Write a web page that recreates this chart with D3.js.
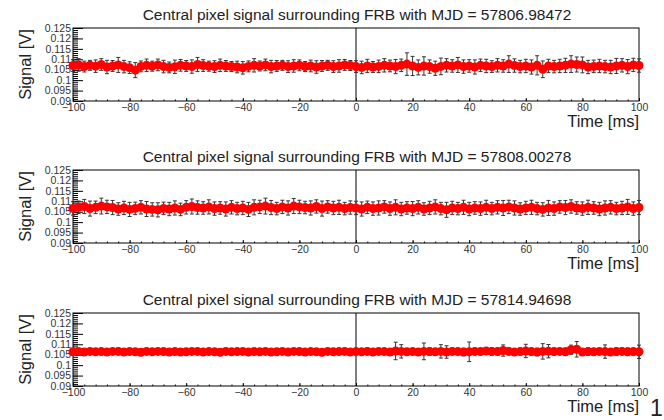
<!DOCTYPE html>
<html>
<head>
<meta charset="utf-8">
<script src="https://cdn.jsdelivr.net/npm/d3@7"></script>
<style>
body { margin: 0; background: #fff; }
svg { display: block; font-family: "Liberation Sans", Arial, sans-serif; }
.frame { fill: none; stroke: #000; stroke-width: 1; }
.zero { stroke: #000; stroke-width: 1; }
.tick line { stroke: #000; }
.tick text { fill: #333; font-size: 10.5px; }
.err { stroke: #333; stroke-width: 1; }
.dot { fill: #ff0000; }
.title { font-size: 15.5px; fill: #222; }
.axlabel { font-size: 16.5px; fill: #222; }
</style>
</head>
<body>
<div></div>
<script>
var w = 664;
var h = 420;
var left = 73, right = 639;
var panelTops = [28, 170, 313];
var panelH = 73;

// tick labels
var xTicks = [-100, -80, -60, -40, -20, 0, 20, 40, 60, 80, 100];
var yTicks = [0.09, 0.095, 0.1, 0.105, 0.11, 0.115, 0.12, 0.125];

var mjds = ["57806.98472", "57808.00278", "57814.94698"];

// sample times, 2 ms apart
var times = d3.range(-100, 101, 2);

// signal [V] per panel
var signal1 = [
 .1070,.1073,.1065,.1071,.1067,.1075,.1063,.1068,.1073,.1065,
 .1060,.1048,.1066,.1071,.1067,.1073,.1065,.1061,.1064,.1071,
 .1068,.1065,.1075,.1070,.1067,.1065,.1071,.1068,.1065,.1063,
 .1059,.1066,.1071,.1068,.1073,.1065,.1068,.1071,.1065,.1068,
 .1071,.1065,.1068,.1063,.1068,.1071,.1065,.1068,.1073,.1070,
 .1065,.1061,.1068,.1063,.1066,.1071,.1068,.1065,.1071,.1077,
 .1068,.1061,.1068,.1065,.1057,.1066,.1071,.1068,.1073,.1065,
 .1068,.1063,.1071,.1068,.1065,.1071,.1068,.1077,.1070,.1065,
 .1068,.1063,.1071,.1052,.1068,.1065,.1068,.1071,.1077,.1075,
 .1073,.1063,.1066,.1068,.1065,.1063,.1068,.1071,.1065,.1073,
 .1070];
var error1 = [
 .0028,.0030,.0026,.0024,.0030,.0028,.0032,.0026,.0036,.0030,
 .0028,.0036,.0026,.0030,.0024,.0028,.0030,.0026,.0032,.0028,
 .0026,.0032,.0034,.0028,.0024,.0028,.0030,.0026,.0024,.0028,
 .0030,.0026,.0032,.0024,.0028,.0030,.0026,.0024,.0028,.0030,
 .0026,.0024,.0028,.0030,.0026,.0024,.0028,.0030,.0026,.0024,
 .0028,.0030,.0032,.0026,.0030,.0032,.0028,.0034,.0030,.0054,
 .0046,.0036,.0044,.0032,.0034,.0040,.0032,.0030,.0036,.0032,
 .0030,.0034,.0030,.0032,.0028,.0032,.0030,.0040,.0032,.0030,
 .0032,.0034,.0046,.0040,.0032,.0030,.0032,.0034,.0040,.0036,
 .0038,.0032,.0030,.0032,.0030,.0032,.0036,.0032,.0034,.0032,
 .0032];

var signal2 = [
 .1066,.1071,.1075,.1065,.1071,.1077,.1073,.1070,.1063,.1068,
 .1061,.1066,.1071,.1063,.1061,.1059,.1066,.1063,.1068,.1061,
 .1071,.1075,.1070,.1068,.1073,.1065,.1068,.1063,.1071,.1065,
 .1068,.1061,.1071,.1073,.1077,.1070,.1065,.1073,.1068,.1077,
 .1073,.1070,.1068,.1075,.1065,.1073,.1068,.1071,.1065,.1070,
 .1068,.1063,.1071,.1065,.1068,.1073,.1065,.1071,.1063,.1068,
 .1065,.1071,.1063,.1068,.1073,.1065,.1059,.1068,.1065,.1071,
 .1063,.1068,.1065,.1071,.1065,.1071,.1068,.1073,.1068,.1063,
 .1068,.1071,.1065,.1061,.1068,.1065,.1073,.1070,.1075,.1068,
 .1065,.1071,.1068,.1063,.1068,.1071,.1065,.1068,.1073,.1065,
 .1070];
var error2 = [
 .0032,.0030,.0034,.0036,.0030,.0038,.0032,.0034,.0030,.0032,
 .0034,.0030,.0032,.0036,.0032,.0034,.0030,.0032,.0034,.0030,
 .0032,.0036,.0032,.0030,.0034,.0032,.0030,.0034,.0032,.0030,
 .0032,.0034,.0036,.0032,.0038,.0034,.0030,.0032,.0034,.0036,
 .0032,.0030,.0034,.0032,.0036,.0030,.0032,.0034,.0030,.0032,
 .0032,.0034,.0030,.0032,.0034,.0030,.0032,.0036,.0032,.0030,
 .0034,.0032,.0030,.0032,.0034,.0030,.0036,.0032,.0030,.0034,
 .0032,.0030,.0032,.0034,.0030,.0032,.0036,.0032,.0034,.0030,
 .0032,.0034,.0030,.0032,.0036,.0032,.0030,.0034,.0032,.0030,
 .0032,.0034,.0030,.0032,.0034,.0032,.0030,.0032,.0036,.0032,
 .0034];

var signal3 = [
 .1064,.1066,.1063,.1066,.1064,.1065,.1063,.1066,.1066,.1063,
 .1065,.1064,.1062,.1066,.1064,.1066,.1065,.1063,.1065,.1063,
 .1064,.1066,.1066,.1063,.1065,.1064,.1062,.1066,.1064,.1065,
 .1066,.1063,.1065,.1064,.1066,.1063,.1064,.1066,.1063,.1066,
 .1065,.1063,.1065,.1064,.1062,.1066,.1064,.1065,.1066,.1063,
 .1065,.1064,.1066,.1063,.1066,.1065,.1063,.1068,.1066,.1064,
 .1065,.1063,.1066,.1065,.1064,.1066,.1063,.1066,.1065,.1063,
 .1064,.1066,.1065,.1068,.1066,.1065,.1070,.1066,.1063,.1065,
 .1068,.1065,.1063,.1066,.1067,.1065,.1066,.1064,.1074,.1076,
 .1063,.1065,.1064,.1066,.1065,.1063,.1065,.1066,.1064,.1065,
 .1064];
var error3 = [
 .0012,.0012,.0014,.0012,.0012,.0014,.0012,.0012,.0016,.0012,
 .0012,.0014,.0012,.0012,.0014,.0012,.0012,.0014,.0012,.0012,
 .0014,.0012,.0012,.0014,.0012,.0012,.0014,.0012,.0012,.0014,
 .0012,.0012,.0014,.0012,.0012,.0014,.0012,.0012,.0014,.0012,
 .0012,.0014,.0012,.0012,.0014,.0012,.0012,.0014,.0012,.0012,
 .0014,.0012,.0016,.0012,.0014,.0012,.0014,.0042,.0032,.0016,
 .0014,.0016,.0040,.0018,.0016,.0032,.0030,.0016,.0014,.0018,
 .0047,.0016,.0014,.0016,.0018,.0016,.0027,.0016,.0014,.0016,
 .0032,.0016,.0018,.0037,.0032,.0016,.0014,.0018,.0022,.0037,
 .0016,.0018,.0016,.0014,.0032,.0016,.0018,.0016,.0018,.0016,
 .0032];

var signals = [signal1, signal2, signal3];
var errors = [error1, error2, error3];

var svg = d3.select("div").append("svg")
	.attr("width", w)
	.attr("height", h);

var x = d3.scaleLinear().domain([-100, 100]).range([left, right]);

panelTops.forEach(function(top, i) {
	drawPanel(top, i);
});

// page number at the bottom right
svg.append("text")
	.attr("x", 650)
	.attr("y", 416)
	.attr("font-size", 23)
	.attr("fill", "#222")
	.text("1");

function drawPanel(top, i) {
	var bottom = top + panelH;
	var y = d3.scaleLinear().domain([0.09, 0.125]).range([bottom, top]);
	var g = svg.append("g").attr("class", "panel");

	//title
	g.append("text")
		.attr("class", "title")
		.attr("x", (left + right) / 2 + 1)
		.attr("y", top - 8)
		.attr("text-anchor", "middle")
		.text("Central pixel signal surrounding FRB with MJD = " + mjds[i]);

	//x axis, ticks pointing inside
	g.append("g")
		.attr("transform", "translate(0," + bottom + ")")
		.call(d3.axisBottom(x).tickValues(d3.range(-100, 101, 4)).tickSize(-1.5).tickFormat(""))
		.call(function(a) { a.select(".domain").remove(); });
	g.append("g")
		.attr("transform", "translate(0," + bottom + ")")
		.call(d3.axisBottom(x).tickValues(xTicks).tickSize(-3).tickPadding(4))
		.call(function(a) { a.select(".domain").remove(); })
		.selectAll("text").attr("dy", "0.71em").attr("y", 3);

	//y axis
	g.append("g")
		.attr("transform", "translate(" + left + ",0)")
		.call(d3.axisLeft(y).tickValues(d3.range(90, 126, 1).map(function(v) { return v / 1000; })).tickSize(-5).tickFormat(""))
		.call(function(a) { a.select(".domain").remove(); });
	g.append("g")
		.attr("transform", "translate(" + left + ",0)")
		.call(d3.axisLeft(y).tickValues(yTicks).tickSize(-10).tickPadding(2)
			.tickFormat(function(d) { return String(+d.toFixed(3)); }))
		.call(function(a) { a.select(".domain").remove(); })
		.selectAll("text").attr("x", -2).attr("dy", "0.3em");

	//frame
	g.append("rect")
		.attr("class", "frame")
		.attr("x", left)
		.attr("y", top)
		.attr("width", right - left)
		.attr("height", panelH);

	//line at t = 0
	g.append("line")
		.attr("class", "zero")
		.attr("x1", x(0))
		.attr("x2", x(0))
		.attr("y1", top)
		.attr("y2", bottom);

	var pts = times.map(function(t, k) {
		return { t: t, v: signals[i][k], e: errors[i][k] };
	});

	//error bars
	var eb = g.append("g");
	eb.selectAll("line.err")
		.data(pts)
		.enter()
		.append("line")
		.attr("class", "err")
		.attr("x1", function(d) { return x(d.t); })
		.attr("x2", function(d) { return x(d.t); })
		.attr("y1", function(d) { return y(d.v + d.e); })
		.attr("y2", function(d) { return y(d.v - d.e); });
	[1, -1].forEach(function(s) {
		eb.selectAll("line.cap" + s)
			.data(pts)
			.enter()
			.append("line")
			.attr("class", "err")
			.attr("x1", function(d) { return x(d.t) - 2; })
			.attr("x2", function(d) { return x(d.t) + 2; })
			.attr("y1", function(d) { return y(d.v + s * d.e); })
			.attr("y2", function(d) { return y(d.v + s * d.e); });
	});

	//markers
	g.append("g").selectAll("circle")
		.data(pts)
		.enter()
		.append("circle")
		.attr("class", "dot")
		.attr("cx", function(d) { return x(d.t); })
		.attr("cy", function(d) { return y(d.v); })
		.attr("r", 4.5);

	//axis titles
	g.append("text")
		.attr("class", "axlabel")
		.attr("x", right)
		.attr("y", bottom + 26)
		.attr("text-anchor", "end")
		.text("Time [ms]");
	g.append("text")
		.attr("class", "axlabel")
		.attr("transform", "translate(31," + (top + bottom) / 2 + ") rotate(-90)")
		.attr("text-anchor", "middle")
		.text("Signal [V]");
}
</script>
</body>
</html>
